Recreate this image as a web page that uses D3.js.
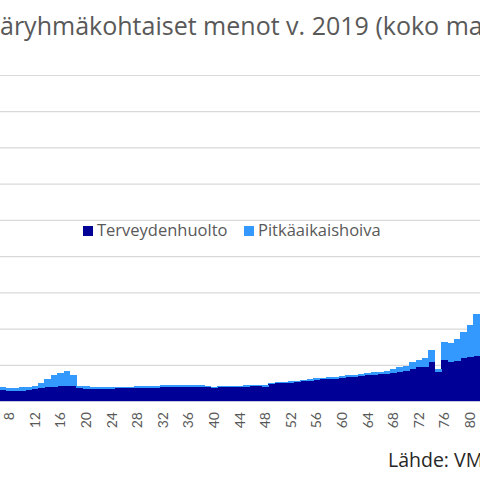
<!DOCTYPE html>
<html>
<head>
<meta charset="utf-8">
<script src="https://cdn.jsdelivr.net/npm/d3@7"></script>
<style>
  body { margin: 0; background: #fff; }
  svg { display: block; font-family: "Open Sans", Lato, sans-serif; }
</style>
</head>
<body>
<div id="chart"></div>
<script>
// ages shown in the (cropped) picture
var ages = [7, 8, 9, 10, 11, 12, 13, 14, 15, 16,
            17, 18, 19, 20, 21, 22, 23, 24, 25, 26,
            27, 28, 29, 30, 31, 32, 33, 34, 35, 36,
            37, 38, 39, 40, 41, 42, 43, 44, 45, 46,
            47, 48, 49, 50, 51, 52, 53, 54, 55, 56,
            57, 58, 59, 60, 61, 62, 63, 64, 65, 66,
            67, 68, 69, 70, 71, 72, 73, 74, 75, 76,
            77, 78, 79, 80, 81];

var terveydenhuolto = [600, 550, 550, 570, 610, 650, 700, 750, 790, 830,
                       840, 830, 700, 690, 660, 660, 680, 680, 700, 720,
                       720, 730, 730, 730, 730, 750, 770, 790, 790, 790,
                       790, 780, 750, 730, 750, 780, 790, 790, 800, 830,
                       830, 800, 940, 970, 990, 1010, 1030, 1080, 1120, 1160,
                       1190, 1210, 1240, 1280, 1310, 1350, 1380, 1420, 1450, 1470,
                       1490, 1550, 1600, 1670, 1770, 1850, 1880, 2130, 1600, 2240,
                       2130, 2210, 2350, 2430, 2480];

var pitkaaikaishoiva = [150, 150, 150, 180, 170, 180, 290, 470, 620, 700,
                        810, 580, 140, 140, 130, 90, 80, 80, 70, 70,
                        80, 80, 90, 90, 110, 110, 100, 90, 90, 90,
                        90, 90, 60, 60, 70, 60, 60, 60, 70, 70,
                        80, 70, 70, 70, 70, 80, 90, 100, 100, 90,
                        100, 110, 110, 110, 110, 110, 120, 130, 130, 150,
                        190, 200, 250, 290, 360, 440, 510, 660, 150, 1040,
                        1060, 1200, 1480, 1770, 2320];

var xTicks = [8, 12, 16, 20, 24, 28, 32, 36, 40, 44, 48, 52, 56, 60, 64, 68, 72, 76, 80];
var yTicks = [0, 2000, 4000, 6000, 8000, 10000, 12000, 14000, 16000, 18000];

var seriesNames = ["Terveydenhuolto", "Pitkäaikaishoiva"];
var colors = ["#000096", "#3399ff"];

function StackedChart() {
  var w = 480;
  var h = 480;

  var rows = ages.map(function (a, i) {
    return { age: a, Terveydenhuolto: terveydenhuolto[i], "Pitkäaikaishoiva": pitkaaikaishoiva[i] };
  });

  var svg = d3.select("#chart")
    .append("svg")
    .attr("width", w)
    .attr("height", h);

  // the picture is a crop: first visible age sits at the left edge
  var step = 6.4;
  var x0 = -0.4;
  var xScale = d3.scaleBand()
    .domain(ages)
    .range([x0, x0 + step * ages.length])
    .padding(0);

  var yScale = d3.scaleLinear()
    .domain([0, 18000])
    .range([401, 75]);

  // gridlines
  var grid = svg.append("g")
    .attr("class", "grid")
    .call(d3.axisLeft(yScale).tickValues(yTicks).tickSize(-w).tickFormat(""));
  grid.select(".domain").remove();
  grid.selectAll("line").attr("stroke", "#d9d9d9").attr("stroke-width", 1.2);

  // stacked bars
  var stacked = d3.stack().keys(seriesNames)(rows);

  svg.append("g")
    .selectAll("g")
    .data(stacked)
    .enter()
    .append("g")
    .attr("fill", (d, i) => colors[i])
    .selectAll("rect")
    .data((d) => d)
    .enter()
    .append("rect")
    .attr("x", (d) => xScale(d.data.age))
    .attr("y", (d) => yScale(d[1]))
    .attr("width", xScale.bandwidth() + 0.3)
    .attr("height", (d) => yScale(d[0]) - yScale(d[1]))
    .attr("shape-rendering", "crispEdges");

  // x axis line
  svg.append("line")
    .attr("x1", 0).attr("x2", w)
    .attr("y1", yScale(0) + 0.5).attr("y2", yScale(0) + 0.5)
    .attr("stroke", "#c8c8e0");

  // x axis labels, rotated
  var xAxis = svg.append("g")
    .attr("transform", "translate(0," + yScale(0) + ")")
    .call(d3.axisBottom(xScale).tickValues(xTicks).tickSize(0));
  xAxis.select(".domain").remove();
  xAxis.selectAll("text")
    .attr("transform", "rotate(-90)")
    .attr("x", -11)
    .attr("y", 0)
    .attr("dy", "0.35em")
    .attr("text-anchor", "end")
    .attr("fill", "#595959")
    .style("font-family", "Lato, sans-serif")
    .style("font-size", "14px");

  // title, left part cut off by the crop
  var title = svg.append("text")
    .attr("y", 35)
    .attr("fill", "#595959")
    .style("font-size", "21px")
    .text("Ikäryhmäkohtaiset menot v. 2019 (koko maa)");
  // fit so that "2019" starts where it does in the picture
  var node = title.node();
  var part = node.getSubStringLength(2, 25);
  title.style("font-size", (21 * 312 / part) + "px");
  var cut = node.getSubStringLength(0, 2);
  title.attr("x", -cut);

  // legend
  var legend = svg.append("g");
  var legendX = [83, 244];
  seriesNames.forEach(function (name, i) {
    legend.append("rect")
      .attr("x", legendX[i])
      .attr("y", 226)
      .attr("width", 10)
      .attr("height", 10)
      .attr("fill", colors[i]);
    legend.append("text")
      .attr("x", legendX[i] + 14)
      .attr("y", 236)
      .attr("fill", "#595959")
      .style("font-size", "16.5px")
      .text(name);
  });

  // source
  svg.append("text")
    .attr("x", 388)
    .attr("y", 467)
    .attr("fill", "#262626")
    .style("font-size", "19.5px")
    .text("Lähde: VM");
}

window.onload = function () {
  StackedChart();
};
</script>
</body>
</html>
